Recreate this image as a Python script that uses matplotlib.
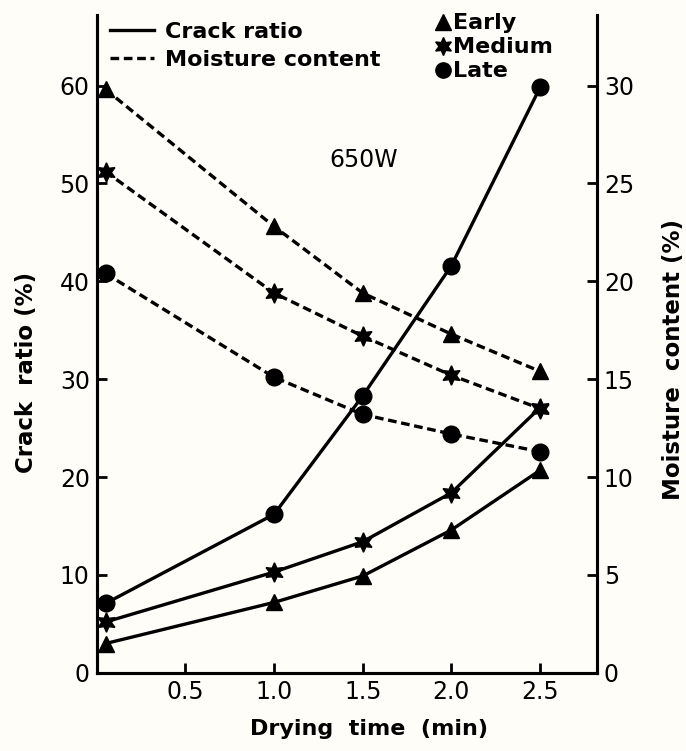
import matplotlib.pyplot as plt
from matplotlib.lines import Line2D

# drying time (min)
time = [0.05, 1.0, 1.5, 2.0, 2.5]

# crack ratio (%) - left axis
crack_early = [3.0, 7.2, 9.9, 14.6, 20.7]
crack_medium = [5.2, 10.3, 13.4, 18.4, 27.1]
crack_late = [7.1, 16.2, 28.3, 41.6, 59.8]

# moisture content (%) - right axis
moist_early = [29.8, 22.8, 19.4, 17.3, 15.4]
moist_medium = [25.6, 19.4, 17.2, 15.2, 13.5]
moist_late = [20.4, 15.1, 13.2, 12.2, 11.3]

xticks = [0.5, 1.0, 1.5, 2.0, 2.5]
left_ticks = [0, 10, 20, 30, 40, 50, 60]
right_ticks = [0, 5, 10, 15, 20, 25, 30]

star6 = (6, 1, 0)
markers = {"Early": "^", "Medium": star6, "Late": "o"}
msize = {"Early": 12, "Medium": 14, "Late": 12}

plt.rcParams['font.family'] = ['DejaVu Sans']
bg = '#fffdf7'
dash = (0, (2.6, 1.4))

fig = plt.figure(figsize=(6.86, 7.51), dpi=100, facecolor=bg)
ax = fig.add_axes([0.141, 0.104, 0.729, 0.876], facecolor=bg)
ax2 = ax.twinx()

for name, y in [("Early", crack_early), ("Medium", crack_medium), ("Late", crack_late)]:
    ax.plot(time, y, color='black', lw=2.4, marker=markers[name], ms=msize[name],
            mfc='black', mec='black', clip_on=False)

for name, y in [("Early", moist_early), ("Medium", moist_medium), ("Late", moist_late)]:
    ax2.plot(time, y, color='black', lw=2.4, ls=dash, marker=markers[name],
             ms=msize[name], mfc='black', mec='black', clip_on=False)

ax.set_xlim(0, 2.82)
ax.set_ylim(0, 67.2)
ax2.set_ylim(0, 33.6)

ax.set_xticks(xticks)
ax.set_xticklabels([f"{t:.1f}" for t in xticks])
ax.set_yticks(left_ticks)
ax2.set_yticks(right_ticks)

for a in (ax, ax2):
    a.spines['top'].set_visible(False)
    for s in ('left', 'right', 'bottom'):
        a.spines[s].set_linewidth(2.2)
    a.tick_params(direction='in', length=7, width=2, labelsize=17, pad=5)

ax.set_xlabel("Drying  time  (min)", fontsize=16, fontweight='bold')
ax.set_ylabel("Crack  ratio (%)", fontsize=16.5, fontweight='bold')
ax2.set_ylabel("Moisture  content (%)", fontsize=16.5, fontweight='bold')
ax.xaxis.set_label_coords(0.545, -0.07)
ax.yaxis.set_label_coords(-0.118, 0.457)
ax2.yaxis.set_label_coords(1.13, 0.476)

ax.text(0.466, 0.78, "650W", transform=ax.transAxes, fontsize=17, va='center')

style_handles = [Line2D([], [], color='black', lw=2.4),
                 Line2D([], [], color='black', lw=2.4, ls=dash)]
leg1 = ax.legend(style_handles, ["Crack ratio", "Moisture content"], loc='upper left',
                 bbox_to_anchor=(-0.005, 1.013), frameon=False,
                 prop={'size': 16, 'weight': 'bold'},
                 handlelength=2.0, handletextpad=0.5, labelspacing=0.35, borderaxespad=0.3)
ax.add_artist(leg1)

mark_handles = [Line2D([], [], color='black', ls='none', marker=markers[n], ms=msize[n] - 1)
                for n in ["Early", "Medium", "Late"]]
ax.legend(mark_handles, ["Early", "Medium", "Late"], loc='upper left',
          bbox_to_anchor=(0.64, 1.033), frameon=False,
          prop={'size': 16, 'weight': 'bold'},
          handlelength=0.6, handletextpad=0.15, labelspacing=0.18)

fig.savefig("out.png", dpi=100, facecolor=bg)
